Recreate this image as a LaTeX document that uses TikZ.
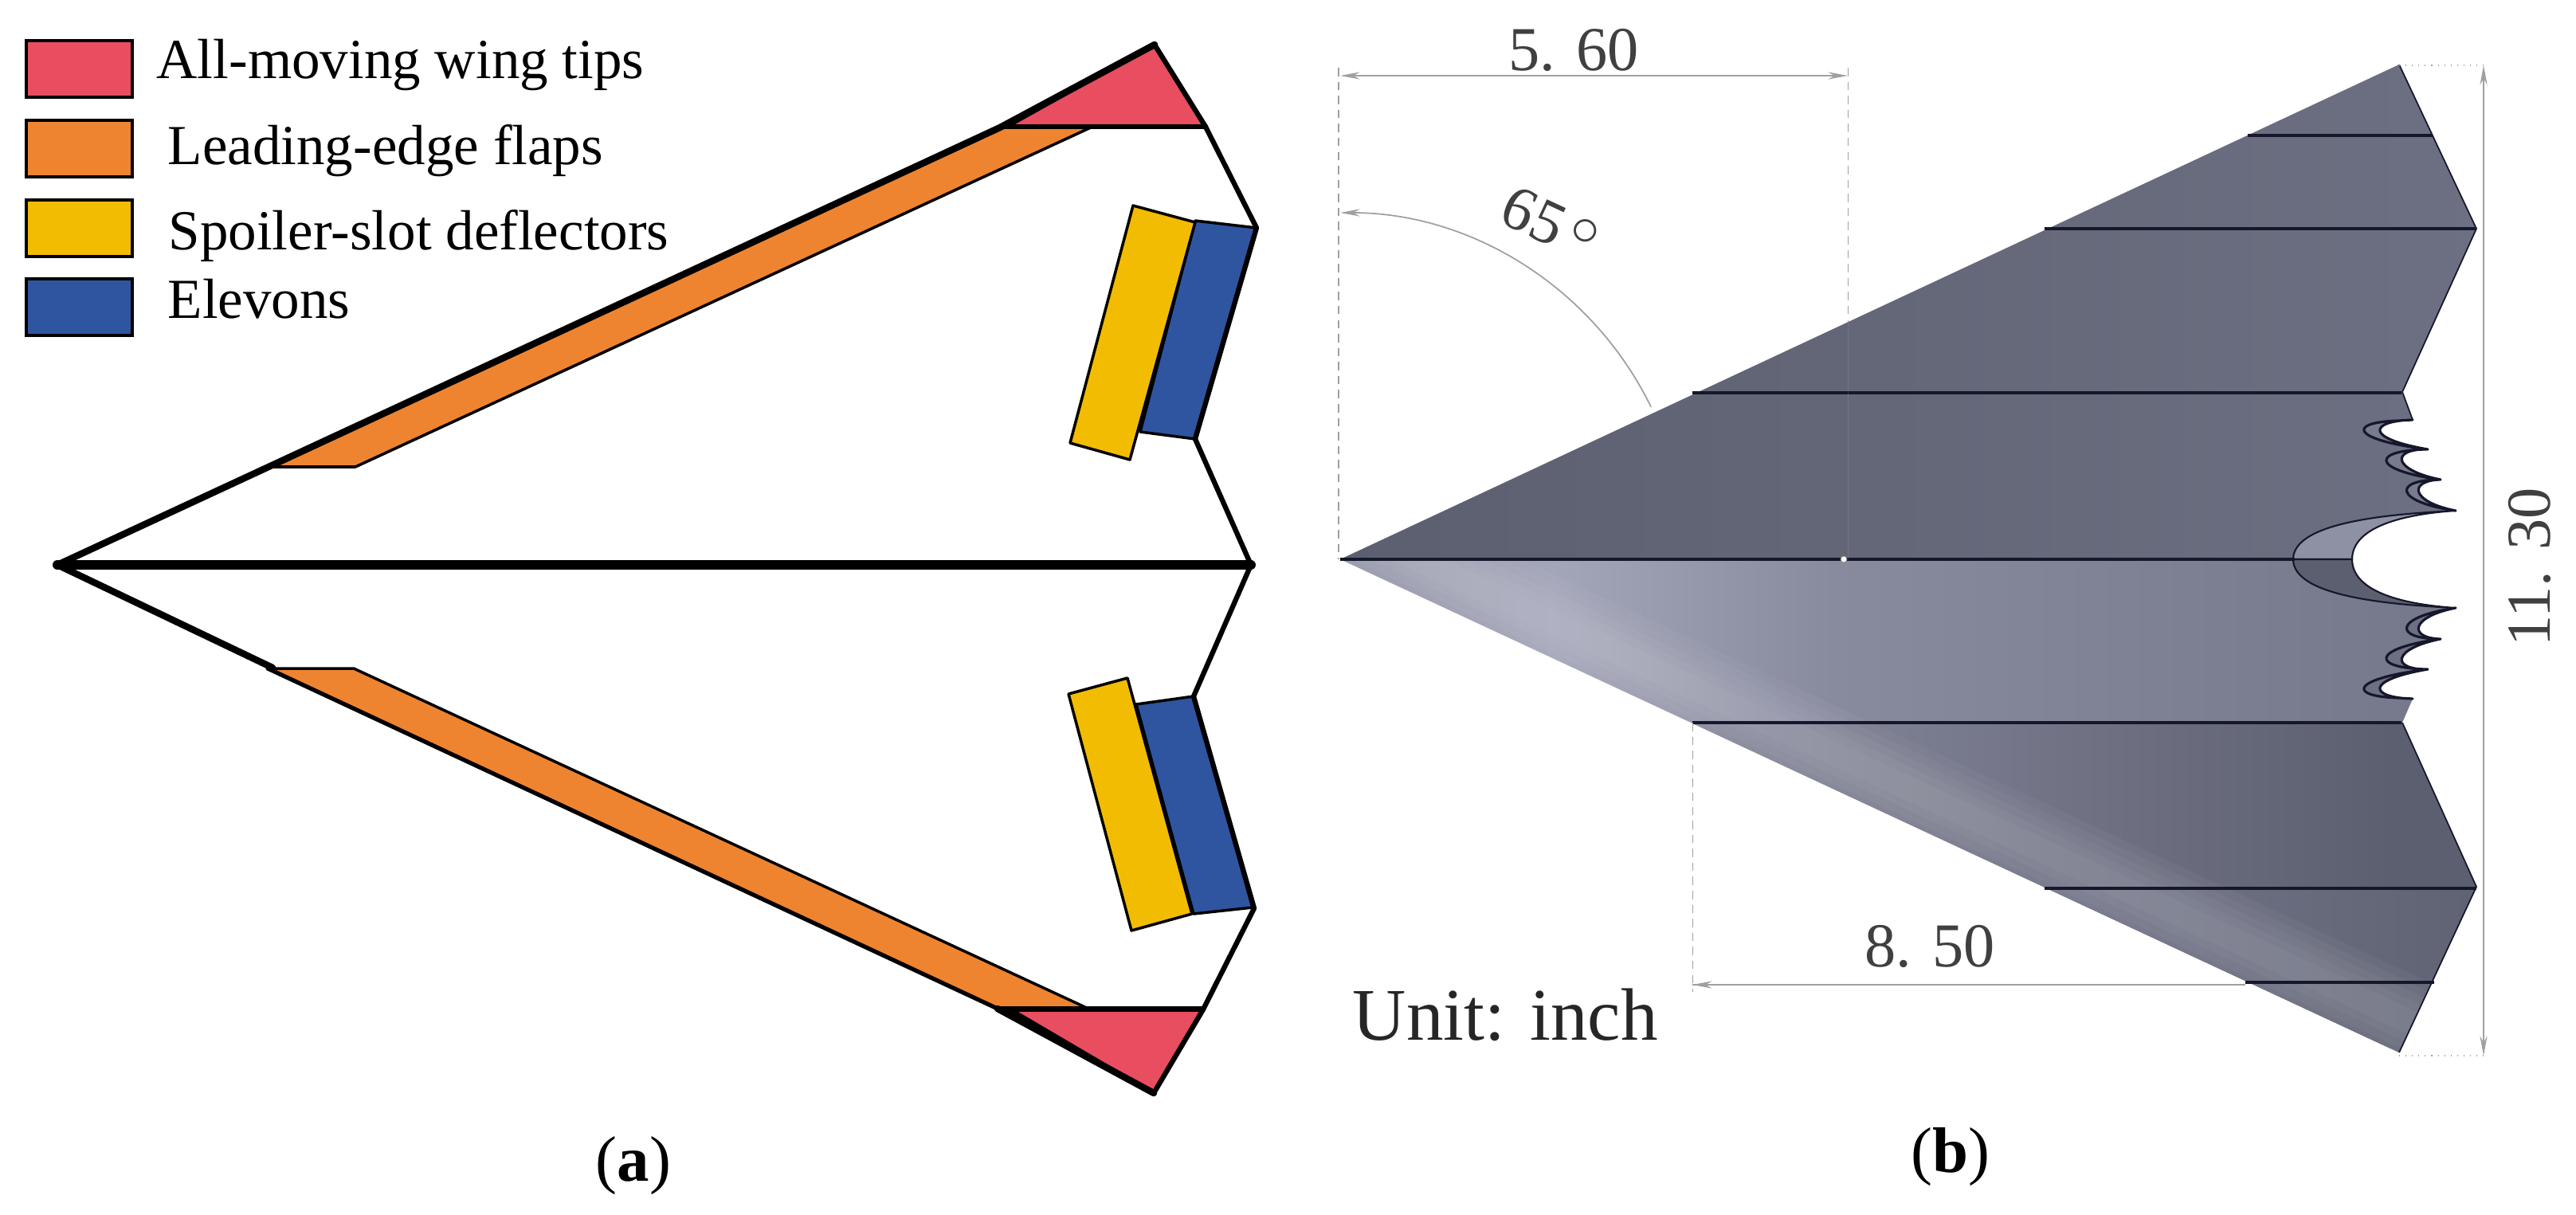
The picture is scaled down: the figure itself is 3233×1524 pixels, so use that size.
\documentclass[tikz,border=0pt]{standalone}
\usepackage{fontspec}
\setmainfont{Liberation Serif}
\usetikzlibrary{arrows.meta}
\usetikzlibrary{calc}

\definecolor{tipred}{HTML}{E84E60}
\definecolor{flaporange}{HTML}{EF8430}
\definecolor{slotyellow}{HTML}{F2BC03}
\definecolor{elevonblue}{HTML}{2F55A0}
\definecolor{dimgray}{HTML}{A0A0A0}
\definecolor{dimtext}{HTML}{404040}
\definecolor{bodydark}{HTML}{5C5F6F}
\definecolor{bodymid}{HTML}{74778A}
\definecolor{bodysoft}{HTML}{888A9E}
\definecolor{bodylight}{HTML}{A3A5B9}
\definecolor{edgeline}{HTML}{15172A}

% one half of the trailing edge cut-outs, y as the upper half
\newcommand{\notchset}[2]{%
\fill[#1, draw=edgeline, line width=.9pt, line join=round] (3028,527) -- (3010,528) .. controls (2945,530) and (2950,552) .. (3047,564) .. controls (2975,565) and (2975,590) .. (3063,602) .. controls (3002,602) and (3005,630) .. (3082,641) .. controls (3025,630) and (3022,603) .. (3063,602) .. controls (3002,590) and (3000,563) .. (3047,564) .. controls (2965,550) and (2975,528) .. cycle;
\fill[#2, draw=edgeline, line width=.6pt] (3082,641) .. controls (3000,645) and (2878,655) .. (2878,702) -- (2952,702) .. controls (2952,660) and (3020,645) .. cycle;
}

\begin{document}
\begin{tikzpicture}[
x=.01cm, y=-.01cm,
swatchnode/.style={rectangle, draw=black, line width=1.1pt, minimum width=1.33cm, minimum height=.71cm, inner sep=0, anchor=north west},
legendnode/.style={inner sep=0, anchor=base west, font=\fontsize{20.2}{24}\selectfont},
captionnode/.style={inner sep=0, anchor=base, font=\fontsize{23}{27}\selectfont},
dimnode/.style={inner sep=0, anchor=base, text=dimtext, font=\fontsize{22.3}{26}\selectfont},
partline/.style={draw=black, line width=1pt, line join=round},
wingline/.style={draw=black, line width=1.8pt, line cap=round, line join=round},
leadline/.style={draw=black, line width=2.4pt, line cap=round, line join=round},
dimline/.style={draw=dimgray, line width=.7pt, {Stealth[length=7pt, width=2.6pt]}-{Stealth[length=7pt, width=2.6pt]}},
extline/.style={draw=dimgray, line width=.3pt, densely dashed},
panelline/.style={draw=edgeline, line width=.9pt}
]
\useasboundingbox (0,0) rectangle (3233,1524);

%Legend
\node[swatchnode, fill=tipred] (swatch1) at (31,49) {};
\node[swatchnode, fill=flaporange] (swatch2) at (31,149) {};
\node[swatchnode, fill=slotyellow] (swatch3) at (31,249) {};
\node[swatchnode, fill=elevonblue] (swatch4) at (31,348) {};
\node[legendnode] (label1) at (196,98) {All-moving wing tips};
\node[legendnode] (label2) at (210,206) {Leading-edge flaps};
\node[legendnode] (label3) at (211,313) {Spoiler-slot deflectors};
\node[legendnode] (label4) at (210,399) {Elevons};

%Coordinates of the left wing outline
\coordinate (apex) at (72,709);
\coordinate (tail) at (1570,709);
\coordinate (tip1) at (1449,56);
\coordinate (tip2) at (1448,1372);

%Control surfaces
\draw[partline, fill=flaporange] (1255,160) -- (1369,160) -- (446,586) -- (339,586) -- cycle;
\draw[partline, fill=flaporange] (336,839) -- (444,839) -- (1366,1266) -- (1252,1266) -- cycle;
\draw[partline, fill=elevonblue] (1500,277) -- (1577,286) -- (1500,551) -- (1431,542) -- cycle;
\draw[partline, fill=slotyellow] (1422,258) -- (1500,279) -- (1418,577) -- (1343,556) -- cycle;
\draw[partline, fill=elevonblue] (1498,874) -- (1426,884) -- (1498,1147) -- (1572,1139) -- cycle;
\draw[partline, fill=slotyellow] (1341,871) -- (1415,851) -- (1496,1147) -- (1420,1168) -- cycle;
\fill[black] (1255,160) -- (tip1) -- (1268,160) -- cycle;
\fill[black] (1252,1266) -- (tip2) -- (1272,1266) -- cycle;
\draw[partline, fill=tipred] (tip1) -- (1513,159) -- (1265,159) -- cycle;
\draw[partline, fill=tipred] (tip2) -- (1510,1268) -- (1271,1268) -- cycle;

%Outline
\draw[leadline] (apex) -- (1255,160) -- (tip1);
\draw[wingline] (tip1) -- (1513,159) -- (1577,286) -- (1500,551) -- (tail) -- (1498,874) -- (1574,1140) -- (1510,1267) -- (tip2);
\draw[leadline] (tip2) -- (1252,1266);
\draw[wingline, line width=1.5pt] (1252,1266) -- (336,839);
\draw[leadline] (342,838) -- (apex);
\draw[wingline] (1255,159) -- (1513,159);
\draw[wingline] (1252,1266) -- (1510,1266);
\draw[wingline, line width=3.4pt] (apex) -- (tail);

%Right model, lower half
\begin{scope}
\clip (1682,702) -- (2952,702) .. controls (2952,744) and (3020,759) .. (3082,763) .. controls (3025,774) and (3022,801) .. (3063,802) .. controls (3002,814) and (3000,841) .. (3047,840) .. controls (2965,854) and (2975,876) .. (3028,877) -- (3015,907) -- (3108,1113) -- (3011,1321) -- cycle;
\shade[left color=bodylight!70!bodymid, right color=bodylight] (1682,702) rectangle (1950,1330);
\shade[left color=bodylight, right color=bodysoft] (1950,702) rectangle (2300,1330);
\shade[left color=bodysoft, right color=bodymid] (2300,702) rectangle (3110,1330);
\shade[left color=bodysoft, right color=bodydark] (2124,908) rectangle (3000,1330);
\fill[bodydark] (3000,908) rectangle (3110,1115);
\shade[left color=bodymid, right color=bodydark!85!bodymid] (2566,1115) rectangle (3110,1330);
\foreach \w in {110,90,70,50,30}
\draw[white, opacity=.035, line width=\w*.2845pt] ($(1682,702)+(0,-45)$) -- ($(3225,1421)+(0,-45)$);
\end{scope}

%Right model, upper half
\shade[left color=bodydark, right color=bodymid!70!bodydark] (1682,702) -- (3011,81) -- (3108,287) -- (3015,492) -- (3028,527) .. controls (2975,528) and (2965,550) .. (3047,564) .. controls (3000,563) and (3002,590) .. (3063,602) .. controls (3022,603) and (3025,630) .. (3082,641) .. controls (3020,645) and (2952,660) .. (2952,702) -- cycle;
\draw[panelline, line width=.5pt] (3011,81) -- (3108,287) -- (3015,492) -- (3028,527);
\draw[panelline, line width=.5pt] (3015,907) -- (3108,1113) -- (3011,1321);
\notchset{bodylight!40!bodydark}{bodylight!70!bodydark}
\begin{scope}[shift={(0,1404)}, yscale=-1]
\notchset{bodymid!70!bodydark}{bodydark}
\end{scope}

%Panel lines
\draw[panelline] (2821,170) -- (3053,170);
\draw[panelline] (2566,287) -- (3108,287);
\draw[panelline] (2124,493) -- (3014,493);
\draw[panelline] (1682,702) -- (2880,702);
\draw[panelline, line width=.5pt] (2880,702) -- (2952,702);
\draw[panelline] (2124,907) -- (3014,907);
\draw[panelline] (2566,1115) -- (3108,1115);
\draw[panelline] (2818,1233) -- (3055,1233);
\node[circle, fill=white, draw=black!50, line width=.2pt, inner sep=0, minimum size=.08cm] (hinge) at (2314,702) {};

%Coordinates of the dimensions
\coordinate (dimA1) at (1682,95);
\coordinate (dimA2) at (2319,95);
\coordinate (dimB1) at (2124,1236);
\coordinate (dimB2) at (2818,1236);
\coordinate (dimC1) at (3117,82);
\coordinate (dimC2) at (3117,1325);
\coordinate (dimD1) at (1682,267);

%Dimensions
\draw[extline] (1680,85) -- (1680,702);
\draw[extline] (dimA2)+(0,-10) -- (2319,404);
\draw[extline, solid, opacity=.25] (2319,404) -- (2319,702);
\draw[extline] (2124,907) -- (2124,1245);
\draw[extline, dotted, line width=.6pt] (3011,82) -- (3122,82);
\draw[extline, dotted, line width=.6pt] (3011,1325) -- (3122,1325);
\draw[dimline] (dimA1) -- (dimA2);
\draw[dimline, -] (dimB1) -- (dimB2);
\draw[dimline, {Stealth[length=7pt, width=2.6pt]}-] (dimB1) -- ($(dimB1)+(60,0)$);
\draw[dimline, line width=.6pt] (dimC1) -- (dimC2);
\draw[dimline, line width=.5pt, {Stealth[length=7pt, width=2.6pt]}-] (dimD1) arc[start angle=-90, end angle=-26, radius=434];
\node[dimnode] (dim560) at (1975,88) {5. 60};
\node[dimnode] (dim850) at (2422,1213) {8. 50};
\node[dimnode, rotate=90] (dim1130) at (3200,712) {11. 30};
\node[dimnode, rotate=-25] (angle65) at (1935,304) {65\hspace{.12em}\raisebox{.5ex}{$\circ$}};
\node[legendnode, font=\fontsize{26.5}{32}\selectfont, text=black!85] (unit) at (1697,1305) {Unit: inch};

%Captions
\node[captionnode] (capA) at (795,1482) {(\textbf{a})};
\node[captionnode] (capB) at (2448,1471) {(\textbf{b})};
\end{tikzpicture}
\end{document}
